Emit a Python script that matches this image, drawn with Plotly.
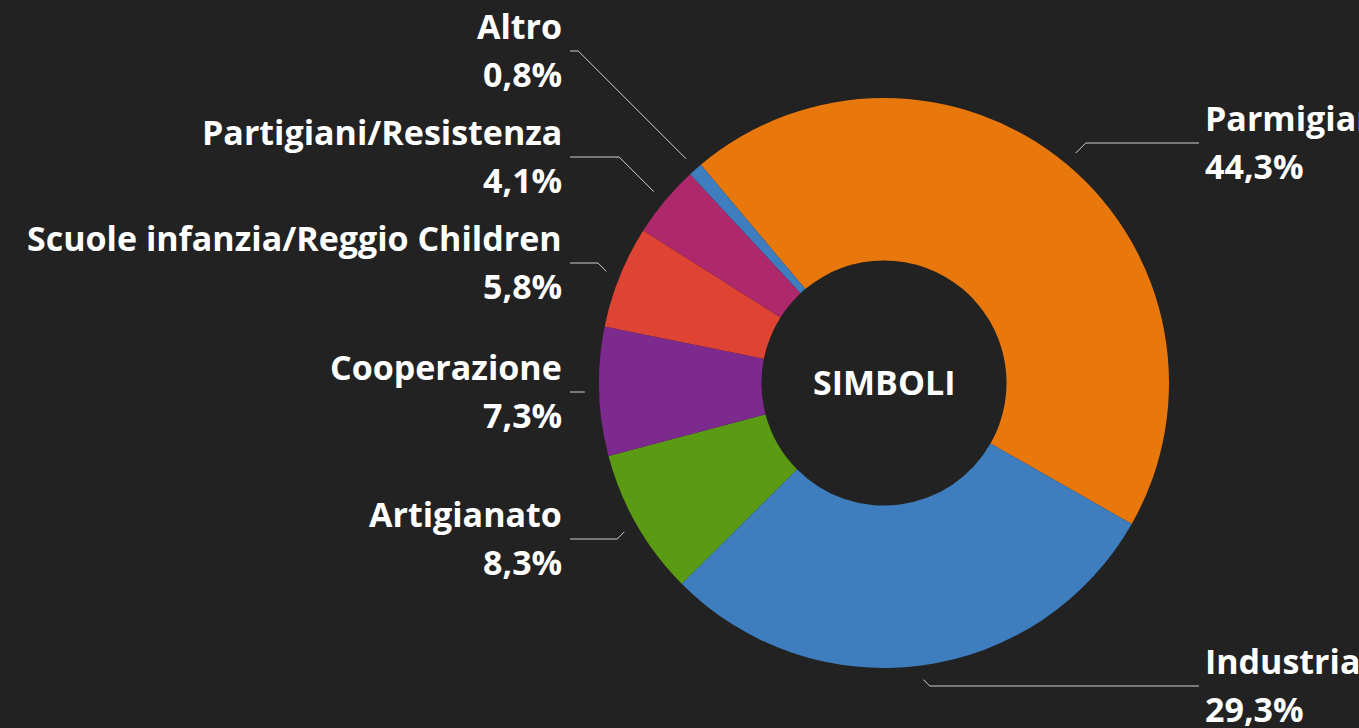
import math
import plotly.graph_objects as go

# ---- data ----
categories = ["Parmigiano", "Industria", "Artigianato", "Cooperazione",
              "Scuole infanzia/Reggio Children", "Partigiani/Resistenza", "Altro"]
values = [44.3, 29.3, 8.3, 7.3, 5.8, 4.1, 0.8]
value_labels = ["44,3%", "29,3%", "8,3%", "7,3%", "5,8%", "4,1%", "0,8%"]
center_label = "SIMBOLI"

# ---- styles / layout ----
colors = ["#E8770C", "#3E7EBF", "#5B9B14", "#7D2A8E", "#DE4334", "#AE296C", "#3E7EBF"]
label_y_px = [143, 686, 539, 392, 263, 157, 51]   # label anchor rows (layout)
BG = "#222222"
W, H = 1359, 728
CX, CY, R = 884, 383, 285
HOLE = 0.43
ROT = -40
LEFT_END, RIGHT_END = 570, 1199
FONT = "Open Sans"
FS = 34

def px(x):
    return x / W

def py(y):
    return 1 - y / H

fig = go.Figure()
fig.add_trace(go.Pie(
    labels=categories, values=values, sort=False, direction="clockwise",
    rotation=ROT, hole=HOLE, textinfo="none", hoverinfo="label+percent",
    marker=dict(colors=colors, line=dict(width=0)),
    domain=dict(x=[px(CX - R), px(CX + R)], y=[py(CY + R), py(CY - R)]),
    showlegend=False,
))

shapes = []
annotations = []
total = sum(values)
cum = 0.0
for name, v, vl, ly in zip(categories, values, value_labels, label_y_px):
    mid = ROT + (cum + v / 2) / total * 360.0
    cum += v
    a = math.radians(mid)
    sx = CX + 1.05 * R * math.sin(a)
    sy = CY - 1.05 * R * math.cos(a)
    right = math.sin(a) > 0.05
    side = 1 if right else -1
    ex = sx + side * abs(ly - sy)
    endx = RIGHT_END if right else LEFT_END
    path = f"M {px(sx)},{py(sy)} L {px(ex)},{py(ly)} L {px(endx)},{py(ly)}"
    shapes.append(dict(type="path", xref="paper", yref="paper", path=path,
                       line=dict(color="#CFCFCF", width=1)))
    tx = endx + (4 if right else -6)
    for txt, dy in ((name, -25), (vl, 23)):
        annotations.append(dict(
            x=px(tx), y=py(ly + dy), xref="paper", yref="paper",
            text=f"<b>{txt}</b>", showarrow=False,
            xanchor="left" if right else "right", yanchor="middle",
            font=dict(family=FONT, size=FS, color="#FFFFFF"),
        ))

annotations.append(dict(
    x=px(CX), y=py(CY - 1), xref="paper", yref="paper", text=f"<b>{center_label}</b>",
    showarrow=False, xanchor="center", yanchor="middle",
    font=dict(family=FONT, size=FS, color="#FFFFFF"),
))

fig.update_layout(
    width=W, height=H, margin=dict(l=0, r=0, t=0, b=0),
    paper_bgcolor=BG, plot_bgcolor=BG,
    shapes=shapes, annotations=annotations,
)
fig.write_html("out.html", config={"displayModeBar": False},
               post_script="document.body.style.margin='0';document.body.style.overflow='hidden';")
